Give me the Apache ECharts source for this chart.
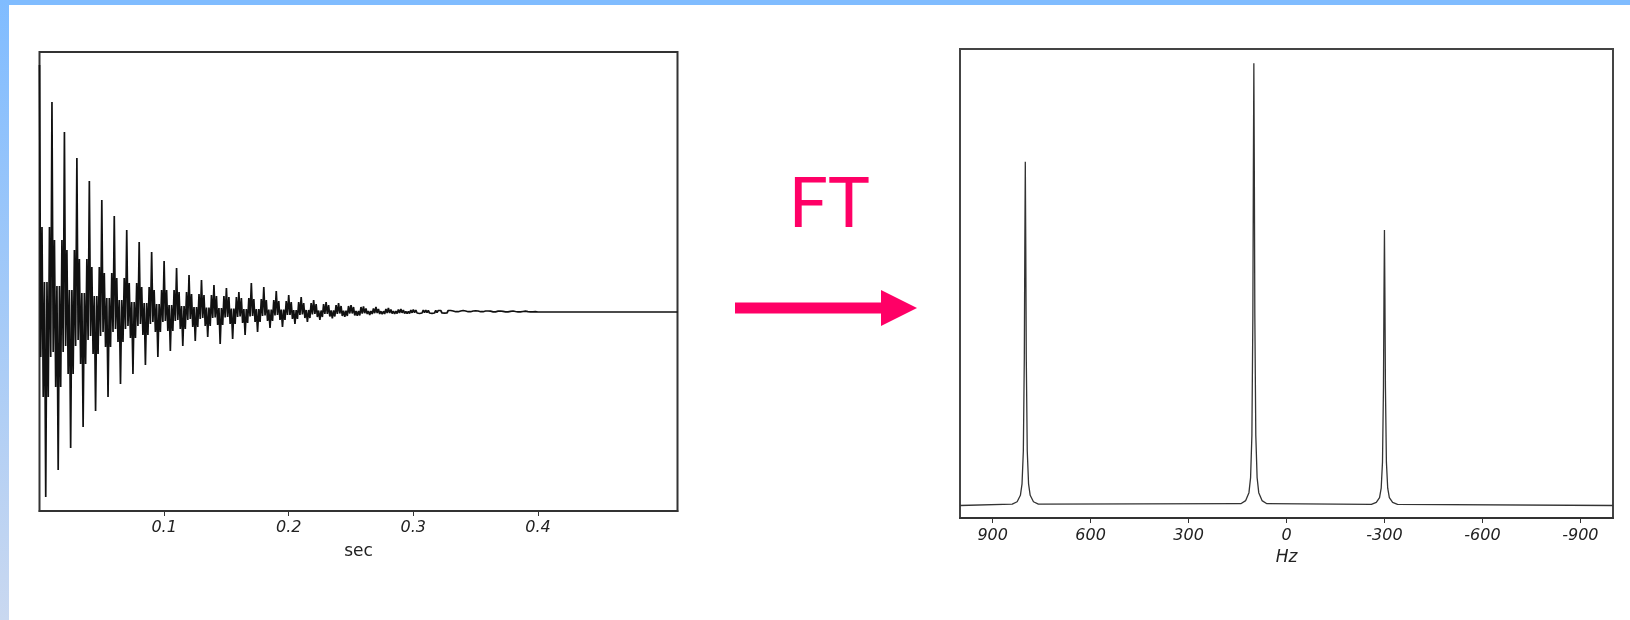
<!DOCTYPE html>
<html>
<head>
<meta charset="utf-8">
<script src="https://cdn.jsdelivr.net/npm/echarts@6/dist/echarts.min.js"></script>
<style>
html,body{margin:0;padding:0;background:#fff;}
#c{width:1630px;height:620px;}
</style>
</head>
<body>
<div id="c"></div>
<script>
// ---- FID (time domain), one entry per 0.01 s beat period ----
const fidPeriodStart = [0,0.01,0.02,0.03,0.04,0.05,0.06,0.07,0.08,0.09,
  0.10,0.11,0.12,0.13,0.14,0.15,0.16,0.17,0.18,0.19,
  0.20,0.21,0.22,0.23,0.24,0.25,0.26,0.27,0.28,0.29,
  0.30,0.31,0.32,0.33,0.34,0.35,0.36,0.37,0.38,0.39];
const fidPosSpike = [247,210,180,154,131,112,96,82,70,60,51,44,37,32,27,24,20,29,25,21,
  17,15,12,10,9,7,5.5,5,4,3,2.5,2,1.5,1.5,1.5,1.2,1,1,1,0.8];
const fidNegSpike = [-185,-158,-136,-115,-99,-85,-72,-62,-53,-45,-39,-34,-29,-25,-32,-27,-23,-20,-16,-15,
  -12,-10,-8,-6.3,-4.7,-3.7,-3,-2.3,-2,-1.7,-1.5,-1.3,-1.2,-1,-1,-1,-0.8,-0.8,-0.6,-0.5];
// band around the positive spike (shoulder) and around the negative spike (trough)
const fidShoulderHigh = [85,72,62,53,45,39,34,29,25,22,22,20,18,17,16,15,14,13,12,11,
  10,9,8,7,6,5,3.5,3,2.5,2,2,1.5,1.5,1,1,1,0.8,0.6,0.5,0.4];
const fidShoulderLow = [-45,-40,-34,-28,-24,-20,-17,-14,-12,-10,-9,-8,-7,-6,-5.5,-5,-4.5,-4,-3.5,-3,
  -3,-2.5,-2,-2,-1.5,-1.5,-1.2,-1,-1,-0.8,-0.7,-0.6,-0.5,-0.4,-0.4,-0.3,-0.3,-0.2,-0.2,-0.2];
const fidTroughHigh = [30,26,22,19,16,14,12,10,9,8,7,6,5,4.5,4,3.5,3,3,2.5,2.5,
  2,2,1.5,1.5,1.2,1,1,0.8,0.8,0.6,0.5,0.5,0.4,0.3,0.3,0.3,0.2,0.2,0.2,0.1];
const fidTroughLow = [-85,-75,-62,-52,-42,-35,-30,-26,-23,-20,-19,-17,-15,-14,-13,-12,-11,-10,-9,-8,
  -7,-6,-5,-4.5,-4,-3.5,-2,-2,-1.5,-1.5,-1,-1,-1,-0.5,-0.5,-0.5,-0.4,-0.3,-0.3,-0.2];
const fidTail = [[0.40,0],[0.512,0]];
const fidTicks = [0.1,0.2,0.3,0.4];

// ---- Spectrum (frequency domain) ----
const specHz = [1000,840,825,815,810,806,803,801.5,800,798.5,797,794,790,785,775,760,
  140,125,115,110,106,103,101.5,100,98.5,97,94,90,85,75,60,
  -260,-275,-285,-290,-294,-297,-298.5,-300,-301.5,-303,-306,-310,-315,-325,-340,-1000];
const specIntensity = [0,0.3,0.85,2.3,4.9,12.3,33.4,58,77.7,58,33.4,12.3,4.9,2.3,0.85,0.3,
  0.4,1.1,2.9,6.3,15.8,43,75,100,75,43,15.8,6.3,2.9,1.1,0.4,
  0.25,0.7,1.8,3.9,9.8,26.8,46.7,62.3,46.7,26.8,9.8,3.9,1.8,0.7,0.25,0];
const specTicks = [900,600,300,0,-300,-600,-900];

// build the FID polyline: 10 points of 1 ms per 0.01 s period
const step = 0.001;
const fidData = [];
for (let k = 0; k < fidPeriodStart.length; k++) {
  const seq = [fidPosSpike[k], fidShoulderLow[k], fidShoulderHigh[k], fidTroughLow[k], fidTroughHigh[k],
               fidNegSpike[k], fidTroughHigh[k], fidTroughLow[k], fidShoulderHigh[k], fidShoulderLow[k]];
  seq.forEach((v, n) => fidData.push([+(fidPeriodStart[k] + n * step).toFixed(5), v]));
}
fidTail.forEach(p => fidData.push(p));

const specData = specHz.map((h, i) => [h, specIntensity[i]]);

const labelFont = {fontFamily: 'DejaVu Sans', fontStyle: 'italic', fontSize: 16, color: '#222'};

const chart = echarts.init(document.getElementById('c'), null, {renderer: 'canvas'});
chart.setOption({
  animation: false,
  backgroundColor: '#ffffff',
  grid: [
    {left: 39.5, top: 52, width: 638, height: 459, show: true, borderColor: '#333', borderWidth: 2, backgroundColor: 'transparent'},
    {left: 960, top: 49, width: 653, height: 469, show: true, borderColor: '#444', borderWidth: 2, backgroundColor: 'transparent'}
  ],
  xAxis: [
    {
      gridIndex: 0, type: 'value', min: 0, max: 0.512,
      axisLine: {show: true, onZero: false, lineStyle: {color: '#333', width: 2}},
      axisTick: {show: true, customValues: fidTicks, length: 5, lineStyle: {color: '#333'}},
      axisLabel: Object.assign({customValues: fidTicks, margin: 9}, labelFont),
      splitLine: {show: false},
      name: 'sec', nameLocation: 'middle', nameGap: 32,
      nameTextStyle: {fontFamily: 'DejaVu Sans', fontSize: 17, color: '#222'}
    },
    {
      gridIndex: 1, type: 'value', min: -1000, max: 1000, inverse: true,
      axisLine: {show: true, onZero: false, lineStyle: {color: '#333', width: 2}},
      axisTick: {show: true, customValues: specTicks, length: 5, lineStyle: {color: '#333'}},
      axisLabel: Object.assign({customValues: specTicks, margin: 10}, labelFont),
      splitLine: {show: false},
      name: 'Hz', nameLocation: 'middle', nameGap: 31,
      nameTextStyle: {fontFamily: 'DejaVu Sans', fontStyle: 'italic', fontSize: 17, color: '#222'}
    }
  ],
  yAxis: [
    {gridIndex: 0, type: 'value', min: -199, max: 260, show: false},
    {gridIndex: 1, type: 'value', min: -2.83, max: 103.2, show: false}
  ],
  series: [
    {
      type: 'line', xAxisIndex: 0, yAxisIndex: 0, data: fidData,
      showSymbol: false, sampling: null, silent: true,
      lineStyle: {color: '#111', width: 1.7}
    },
    {
      type: 'line', xAxisIndex: 1, yAxisIndex: 1, data: specData,
      showSymbol: false, silent: true,
      lineStyle: {color: '#333', width: 1.3}
    }
  ],
  graphic: [
    {type: 'rect', left: 0, top: 0, shape: {x: 0, y: 0, width: 1630, height: 5}, style: {fill: '#80bcff'}, silent: true},
    {type: 'rect', left: 0, top: 0, shape: {x: 0, y: 0, width: 9, height: 620},
      style: {fill: new echarts.graphic.LinearGradient(0, 0, 0, 1, [{offset: 0, color: '#80bcff'}, {offset: 1, color: '#c9d8f0'}])}, silent: true},
    {type: 'text', x: 829, y: 204, style: {text: 'FT', fill: '#ff0066', font: 'normal 70px Lato', align: 'center', verticalAlign: 'middle'}, silent: true},
    {type: 'polygon', shape: {points: [[735, 302.5], [881, 302.5], [881, 290], [917, 308], [881, 326], [881, 313.5], [735, 313.5]]},
      style: {fill: '#ff0066'}, silent: true}
  ]
});
</script>
</body>
</html>
